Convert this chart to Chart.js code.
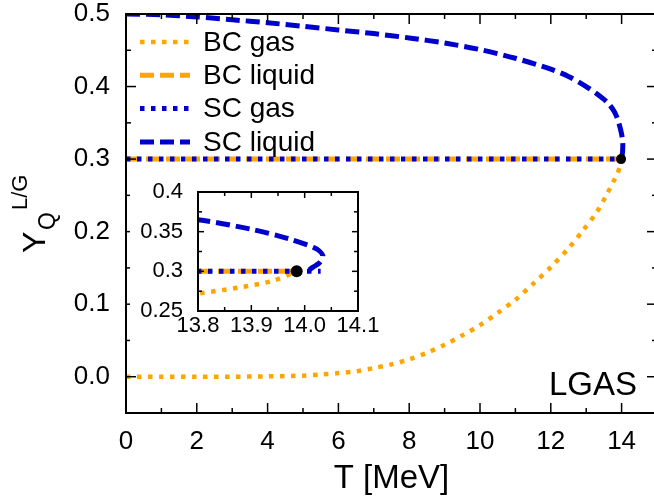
<!DOCTYPE html>
<html>
<head>
<meta charset="utf-8">
<script src="https://cdn.jsdelivr.net/npm/chart.js@4.4.1/dist/chart.umd.min.js"></script>
<style>
  html, body { margin: 0; padding: 0; background: #fff; overflow: hidden; }
  #wrap { position: relative; width: 654px; height: 502px; overflow: hidden; }
  #main { position: absolute; left: 0; top: 0; }
  #inset { position: absolute; left: 130px; top: 180px; background: #fff; }
</style>
</head>
<body>
<div id="wrap">
  <canvas id="main" width="664" height="502"></canvas>
  <canvas id="inset" width="260" height="165"></canvas>
</div>
<script>
// --- data ---
const SC_LIQ_T = [0, 1, 2, 3, 4, 5, 6, 7, 8, 9, 10, 11, 12, 12.5, 13, 13.3, 13.6, 13.8, 13.9, 13.97, 14.02, 14.034, 14.028, 14.015, 14.005];
const SC_LIQ_Y = [0.5, 0.499, 0.496, 0.492, 0.488, 0.483, 0.478, 0.473, 0.467, 0.460, 0.451, 0.439, 0.424, 0.414, 0.400, 0.390, 0.378, 0.365, 0.353, 0.341, 0.329, 0.320, 0.311, 0.305, 0.300];

const BC_GAS_T = [0, 1, 2, 3, 4, 5, 5.5, 6, 6.5, 7, 7.5, 8, 8.5, 9, 9.5, 10, 10.5, 11, 11.5, 12, 12.5, 12.9, 13.3, 13.6, 13.8, 13.88, 13.94, 13.985];
const BC_GAS_Y = [0, 0, 0, 0, 0.0005, 0.0015, 0.003, 0.005, 0.0075, 0.012, 0.017, 0.024, 0.033, 0.044, 0.057, 0.071, 0.088, 0.106, 0.128, 0.151, 0.177, 0.201, 0.227, 0.253, 0.272, 0.280, 0.288, 0.300];

const BC_LIQ_T = [0, 13.985];
const BC_LIQ_Y = [0.3, 0.3];
const SC_GAS_T = [0, 14.03];
const SC_GAS_Y = [0.3, 0.3];
const CRIT_T = [13.985];
const CRIT_Y = [0.3];

const X_TICKS = [0, 2, 4, 6, 8, 10, 12, 14];
const X_TICK_LABELS = ['0', '2', '4', '6', '8', '10', '12', '14'];
const X_MINOR = [1, 3, 5, 7, 9, 11, 13];
const Y_TICKS = [0, 0.1, 0.2, 0.3, 0.4, 0.5];
const Y_TICK_LABELS = ['0.0', '0.1', '0.2', '0.3', '0.4', '0.5'];
const Y_MINOR = [0.05, 0.15, 0.25, 0.35, 0.45];

const IN_X_TICKS = [13.8, 13.9, 14.0, 14.1];
const IN_X_TICK_LABELS = ['13.8', '13.9', '14.0', '14.1'];
const IN_X_MINOR = [13.85, 13.95, 14.05];
const IN_Y_TICKS = [0.25, 0.3, 0.35, 0.4];
const IN_Y_TICK_LABELS = ['0.25', '0.3', '0.35', '0.4'];
const IN_Y_MINOR = [0.275, 0.325, 0.375];

const FONT = "'Liberation Sans', Arial, Helvetica, sans-serif";
const ORANGE = '#ffa500';
const BLUE = '#0000cd';
const DOT = [4.5, 6.5];
const DASH = [14, 6];

function pts(xs, ys) {
  return xs.map((x, i) => ({ x, y: ys[i] }));
}

const SERIES = [
  { label: 'BC gas', t: BC_GAS_T, y: BC_GAS_Y, color: ORANGE, dash: DOT, width: 4.5, order: 3, tension: 0.3 },
  { label: 'BC liquid', t: BC_LIQ_T, y: BC_LIQ_Y, color: ORANGE, dash: DASH, width: 5, order: 2, tension: 0 },
  { label: 'SC gas', t: SC_GAS_T, y: SC_GAS_Y, color: BLUE, dash: DOT, width: 5, order: 1, tension: 0 },
  { label: 'SC liquid', t: SC_LIQ_T, y: SC_LIQ_Y, color: BLUE, dash: DASH, width: 5, order: 4, tension: 0.3 },
];

function makeDatasets(clip, dotR) {
  const ds = SERIES.map(s => ({
    label: s.label,
    data: pts(s.t, s.y),
    showLine: true,
    borderColor: s.color,
    borderWidth: s.width,
    borderDash: s.dash,
    borderCapStyle: 'butt',
    tension: s.tension,
    pointRadius: 0,
    fill: false,
    order: s.order,
    clip,
  }));
  ds.push({
    label: 'critical point',
    data: pts(CRIT_T, CRIT_Y),
    pointRadius: dotR,
    pointBackgroundColor: '#000',
    pointBorderWidth: 0,
    order: 0,
    clip: false,
  });
  return ds;
}

function line(ctx, x1, y1, x2, y2) {
  ctx.beginPath();
  ctx.moveTo(x1, y1);
  ctx.lineTo(x2, y2);
  ctx.stroke();
}

// frame + inward ticks on all four sides
function drawFrame(chart, o) {
  const { ctx, chartArea: a, scales: { x, y } } = chart;
  ctx.save();
  ctx.strokeStyle = '#000';
  ctx.setLineDash([]);
  ctx.lineWidth = o.tickWidth;
  const xt = (vals, len) => {
    for (const v of vals) {
      const px = x.getPixelForValue(v);
      line(ctx, px, a.bottom, px, a.bottom - len);
      line(ctx, px, a.top, px, a.top + len);
    }
  };
  const yt = (vals, len) => {
    for (const v of vals) {
      const py = y.getPixelForValue(v);
      line(ctx, a.left, py, a.left + len, py);
      line(ctx, a.right, py, a.right - len, py);
    }
  };
  xt(o.xMajor, o.major);
  xt(o.xMinor, o.minor);
  yt(o.yMajor, o.major);
  yt(o.yMinor, o.minor);
  ctx.lineWidth = 2;
  ctx.strokeRect(a.left, a.top, a.right - a.left, a.bottom - a.top);
  ctx.restore();
}

const mainDecor = {
  id: 'mainDecor',
  afterDraw(chart) {
    drawFrame(chart, { xMajor: X_TICKS, xMinor: X_MINOR, yMajor: Y_TICKS, yMinor: Y_MINOR, major: 10, minor: 5, tickWidth: 1.5 });
    const { ctx, chartArea: a } = chart;
    ctx.save();

    // legend
    ctx.font = '28px ' + FONT;
    ctx.fillStyle = '#000';
    ctx.textAlign = 'left';
    ctx.textBaseline = 'middle';
    SERIES.forEach((s, i) => {
      const ry = a.top + 28 + i * 33.3;
      ctx.strokeStyle = s.color;
      ctx.lineWidth = s.width;
      ctx.setLineDash(s.dash);
      ctx.lineCap = 'butt';
      line(ctx, a.left + 14, ry, a.left + 64, ry);
      ctx.setLineDash([]);
      ctx.fillText(s.label, a.left + 77, ry + 1);
    });

    // LGAS label
    ctx.font = '33px ' + FONT;
    ctx.textAlign = 'right';
    ctx.textBaseline = 'alphabetic';
    ctx.fillText('LGAS', a.right - 20, a.bottom - 18);

    // y axis title  Y_Q^{L/G}
    ctx.translate(45, 253);
    ctx.rotate(-Math.PI / 2);
    ctx.textAlign = 'left';
    ctx.font = '32px ' + FONT;
    ctx.fillText('Y', 0, 0);
    ctx.font = '23px ' + FONT;
    ctx.fillText('Q', 23, 10);
    ctx.font = '22px ' + FONT;
    ctx.fillText('L/G', 43, -18);
    ctx.restore();
  },
};

const insetDecor = {
  id: 'insetDecor',
  afterDraw(chart) {
    drawFrame(chart, { xMajor: IN_X_TICKS, xMinor: IN_X_MINOR, yMajor: IN_Y_TICKS, yMinor: IN_Y_MINOR, major: 6, minor: 4, tickWidth: 1.5 });
  },
};

function axis(min, max, ticks, labels, size, pad, fit, horizontal) {
  return {
    type: 'linear',
    min,
    max,
    grid: { display: false, drawTicks: false },
    border: { display: false },
    afterBuildTicks: s => { s.ticks = ticks.map(v => ({ value: v })); },
    afterFit: s => {
      if (horizontal) s.height = fit; else s.width = fit;
      s.paddingTop = 0;
      s.paddingBottom = 0;
      s.paddingLeft = 0;
      s.paddingRight = 0;
    },
    ticks: {
      autoSkip: false,
      maxRotation: 0,
      color: '#000',
      padding: pad,
      font: { family: FONT, size },
      callback: (v, i) => labels[i],
    },
  };
}

const mainX = axis(0, 15, X_TICKS, X_TICK_LABELS, 26, 13, 89, true);
mainX.title = { display: true, text: 'T [MeV]', color: '#000', font: { family: FONT, size: 33 }, padding: { top: 0, bottom: 3 } };

new Chart(document.getElementById('main'), {
  type: 'scatter',
  data: { datasets: makeDatasets(undefined, 5) },
  options: {
    responsive: false,
    animation: false,
    devicePixelRatio: 1,
    layout: { padding: { top: 14, right: 7, left: 0, bottom: 0 } },
    plugins: { legend: { display: false }, tooltip: { enabled: false } },
    scales: {
      x: mainX,
      y: axis(-0.05, 0.5, Y_TICKS, Y_TICK_LABELS, 26, 16, 126, false),
    },
  },
  plugins: [mainDecor],
});

new Chart(document.getElementById('inset'), {
  type: 'scatter',
  data: { datasets: makeDatasets(0, 6) },
  options: {
    responsive: false,
    animation: false,
    devicePixelRatio: 1,
    layout: { padding: { top: 12, right: 32, left: 0, bottom: 0 } },
    plugins: { legend: { display: false }, tooltip: { enabled: false } },
    scales: {
      x: axis(13.8, 14.1, IN_X_TICKS, IN_X_TICK_LABELS, 22, 2, 34, true),
      y: axis(0.25, 0.4, IN_Y_TICKS, IN_Y_TICK_LABELS, 22, 15, 68, false),
    },
  },
  plugins: [insetDecor],
});
</script>
</body>
</html>
